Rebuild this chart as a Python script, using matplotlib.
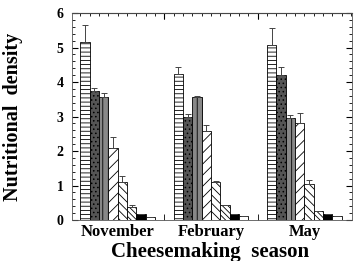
import numpy as np
import matplotlib
matplotlib.use("Agg")
import matplotlib.pyplot as plt
from matplotlib.ticker import MultipleLocator

plt.rcParams['font.family'] = ['Liberation Serif', 'DejaVu Serif']
plt.rcParams['hatch.linewidth'] = 0.6

seasons = ['November', 'February', 'May']
# eight nutrients per season, heights and upper error bars
values = [
    [5.15, 3.75, 3.56, 2.08, 1.11, 0.37, 0.17, 0.10],
    [4.23, 2.99, 3.56, 2.59, 1.11, 0.45, 0.18, 0.12],
    [5.07, 4.20, 2.95, 2.82, 1.04, 0.26, 0.17, 0.13],
]
errors = [
    [0.50, 0.07, 0.11, 0.32, 0.17, 0.06, 0.0, 0.0],
    [0.21, 0.07, 0.03, 0.16, 0.03, 0.0, 0.0, 0.0],
    [0.51, 0.24, 0.09, 0.27, 0.12, 0.0, 0.0, 0.0],
]

styles = [
    dict(facecolor='white', hatch='----'),
    dict(facecolor='#555555', hatch='....'),
    dict(facecolor='#888888', hatch='|||'),
    dict(facecolor='white', hatch='///'),
    dict(facecolor='white', hatch='\\\\\\\\'),
    dict(facecolor='white', hatch='\\\\\\\\\\\\'),
    dict(facecolor='black', hatch=None),
    dict(facecolor='white', hatch=None),
]

fig = plt.figure(figsize=(3.6, 2.61), dpi=100)
ax = fig.add_axes([0.2, 0.157, 0.778, 0.793])

width = 0.1
x = np.arange(len(seasons))
vals = np.array(values)
errs = np.array(errors)
for i in range(8):
    pos = x - 0.35 + i * width
    ax.bar(pos, vals[:, i], width, edgecolor='black', linewidth=0.6, **styles[i])
    ax.errorbar(pos, vals[:, i], yerr=[np.zeros(3), errs[:, i]], fmt='none',
                ecolor='#444444', elinewidth=0.7, capsize=2, capthick=0.7)

ax.set_xlim(-0.49, 2.51)
ax.set_ylim(0, 6)
ax.set_xticks(x)
ax.set_xticklabels(seasons, fontweight='bold', fontsize=12)
ax.set_xticks([0.5, 1.5], minor=True)
ax.tick_params(axis='x', which='major', length=0, pad=3)
ax.tick_params(axis='x', which='minor', direction='in', length=4, top=True)
ax.yaxis.set_minor_locator(MultipleLocator(0.2))
ax.tick_params(axis='y', which='both', direction='in', right=True)
ax.tick_params(axis='y', which='minor', length=2)
ax.tick_params(axis='y', which='major', length=4, pad=6)
for lab in ax.get_yticklabels():
    lab.set_fontweight('bold')
    lab.set_fontsize(10)

top = ax.secondary_xaxis('top')
top.set_xticks([0.5, 1.5])
top.xaxis.set_minor_locator(MultipleLocator(0.1))
top.tick_params(which='both', direction='in', labeltop=False)
top.tick_params(which='minor', length=2)
top.tick_params(which='major', length=4)

fig.text(210 / 360, 1 - 252 / 261, 'Cheesemaking  season', fontweight='bold',
         fontsize=15, ha='center', va='center')
fig.text(13 / 360, 1 - 117 / 261, 'Nutritional  density', fontweight='bold',
         fontsize=14.5, ha='center', va='center', rotation=90)

for s in ax.spines.values():
    s.set_linewidth(0.6)
    s.set_color('#555555')

fig.savefig('out.png', dpi=100)
